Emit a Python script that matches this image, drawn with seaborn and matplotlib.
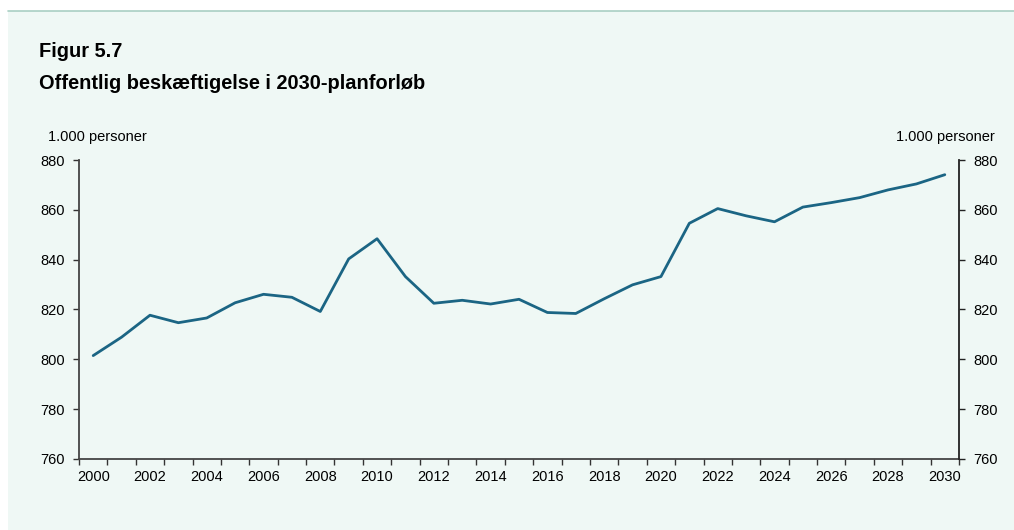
import numpy as np
import pandas as pd
import seaborn as sns
import matplotlib.pyplot as plt
from matplotlib.patches import Rectangle
from matplotlib.lines import Line2D

years = list(range(2000, 2031))
employment = [801.5, 808.9, 817.7, 814.7, 816.6, 822.7, 826.1, 824.9, 819.2, 840.3,
              848.4, 833.2, 822.5, 823.7, 822.2, 824.1, 818.8, 818.4, 824.3, 829.9,
              833.2, 854.6, 860.5, 857.6, 855.2, 861.1, 862.9, 864.9, 868.0, 870.4,
              874.1]
yticks = [760, 780, 800, 820, 840, 860, 880]
unit_label = "1.000 personer"
title1 = "Figur 5.7"
title2 = "Offentlig beskæftigelse i 2030-planforløb"

df = pd.DataFrame({"year": years, "value": employment})

sns.set_theme(style="ticks")
plt.rcParams['font.family'] = ['Liberation Sans', 'DejaVu Sans']
plt.rcParams['text.color'] = 'black'
plt.rcParams['xtick.labelcolor'] = 'black'
plt.rcParams['ytick.labelcolor'] = 'black'

W, H = 1014, 530
fig = plt.figure(figsize=(W / 100, H / 100), dpi=100)
fig.patch.set_facecolor("white")

# mint panel + top rule
fig.patches.append(Rectangle((8 / W, 0), 1 - 8 / W, 1 - 11 / H, transform=fig.transFigure,
                             facecolor="#eff8f5", edgecolor="none", zorder=-10))
fig.lines.append(Line2D([8 / W, 1], [1 - 11 / H, 1 - 11 / H], transform=fig.transFigure,
                        color="#a9cfc3", lw=1.2))

ax = fig.add_axes([79 / W, 1 - 459 / H, (959 - 79) / W, (459 - 160) / H])
ax.set_facecolor("none")

sns.lineplot(data=df, x="year", y="value", ax=ax, color="#1b6584", linewidth=2.0)

ax.set_xlim(1999.5, 2030.5)
ax.set_ylim(760, 880)
ax.set_yticks(yticks)
ax.set_xticks(np.arange(1999.5, 2031, 1))
ax.set_xticklabels([])
even = [y for y in years if y % 2 == 0]
ax.set_xticks(even, minor=True)
ax.set_xticklabels([str(y) for y in even], minor=True)
ax.tick_params(axis="x", which="major", length=4, width=1, color="#333333")
ax.tick_params(axis="x", which="minor", length=0, pad=8, labelsize=10.5, labelcolor="black")
ax.tick_params(axis="y", length=4, width=1, color="#333333", pad=6, labelsize=10.5,
               labelcolor="black")
ax.set_xlabel("")
ax.set_ylabel("")
for s in ["top", "right"]:
    ax.spines[s].set_visible(False)
for s in ["left", "bottom"]:
    ax.spines[s].set_color("#444444")
    ax.spines[s].set_linewidth(1.3)

ax2 = ax.twinx()
ax2.set_ylim(760, 880)
ax2.set_yticks(yticks)
ax2.tick_params(axis="y", length=4, width=1, color="#222222", pad=6, labelsize=10.5,
                labelcolor="black")
for s in ["top", "left", "bottom"]:
    ax2.spines[s].set_visible(False)
ax2.spines["right"].set_color("#222222")
ax2.spines["right"].set_linewidth(1.3)

fig.text(48 / W, 1 - 141 / H, unit_label, fontsize=10.5, va="baseline", ha="left")
fig.text(995 / W, 1 - 141 / H, unit_label, fontsize=10.5, va="baseline", ha="right")
fig.text(39 / W, 1 - 57 / H, title1, fontsize=14.4, fontweight="bold", va="baseline")
fig.text(39 / W, 1 - 89 / H, title2, fontsize=14.4, fontweight="bold", va="baseline")

fig.savefig("out.png", dpi=100, facecolor=fig.get_facecolor())
